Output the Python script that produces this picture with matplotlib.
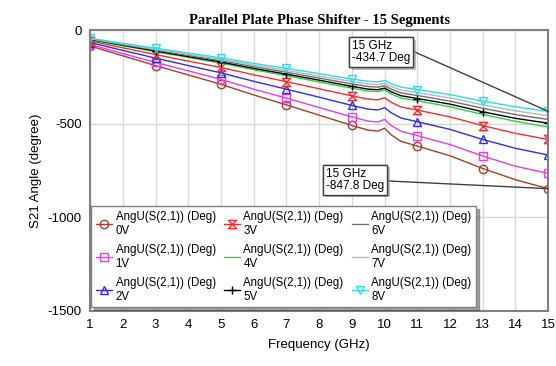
import matplotlib
matplotlib.use('Agg')
import matplotlib.pyplot as plt
import matplotlib.patheffects as pe
from matplotlib.path import Path

# frecuencias (GHz) y fase de S21 (grados) para cada tension de polarizacion
freq = [1, 2, 3, 4, 5, 6, 7, 8, 9, 9.5, 9.8, 10, 10.2, 10.5, 11, 12, 13, 14, 15]

fase_0V = [-85, -138, -190, -240, -290, -347, -400, -455, -510, -535, -540, -525, -560, -595, -620, -672, -740, -800, -847.8]
fase_1V = [-77, -126, -173, -218, -264, -316, -364, -414, -464, -487, -491, -478, -510, -541, -564, -612, -673, -728, -766]
fase_2V = [-67, -109, -150, -190, -229, -274, -316, -359, -403, -423, -427, -415, -442, -470, -490, -531, -585, -632, -668]
fase_3V = [-59, -95, -131, -166, -200, -239, -276, -314, -352, -369, -373, -362, -386, -411, -428, -464, -511, -552, -585]
fase_4V = [-52, -84, -116, -146, -177, -212, -244, -278, -311, -326, -329, -320, -342, -363, -378, -410, -451, -488, -518]
fase_5V = [-50, -81, -112, -142, -171, -205, -236, -268, -301, -316, -319, -310, -330, -351, -366, -396, -437, -472, -498]
fase_6V = [-48, -78, -107, -136, -164, -196, -226, -257, -288, -302, -305, -297, -316, -336, -350, -380, -418, -452, -478]
fase_7V = [-46, -75, -103, -130, -157, -187, -216, -246, -275, -289, -292, -284, -302, -321, -335, -363, -400, -432, -458]
fase_8V = [-44, -71, -97, -123, -149, -178, -205, -233, -262, -274, -277, -269, -287, -305, -318, -345, -380, -410, -434.7]

voltajes = ['0V', '1V', '2V', '3V', '4V', '5V', '6V', '7V', '8V']
series = [fase_0V, fase_1V, fase_2V, fase_3V, fase_4V, fase_5V, fase_6V, fase_7V, fase_8V]

reloj = Path([(-1, 1), (1, 1), (-1, -1), (1, -1), (-1, 1)],
             [Path.MOVETO, Path.LINETO, Path.LINETO, Path.LINETO, Path.CLOSEPOLY])

colores = ['#a0402f', '#e43ee4', '#2f2fe0', '#f03030', '#30d040', '#000000', '#6e6e6e', '#b8b8b8', '#30dbe8']
marcas = ['o', 's', '^', reloj, None, '+', None, None, 'v']

# marcadores solo en las frecuencias impares
idx_marcas = [i for i, f in enumerate(freq) if f in (1, 3, 5, 7, 9, 11, 13, 15)]

plt.rcParams['font.family'] = ['Liberation Sans', 'DejaVu Sans']
plt.rcParams['axes.unicode_minus'] = False

fig = plt.figure(figsize=(5.56, 3.66), dpi=100)
ax = fig.add_axes([0.162, 0.151, 0.824, 0.767])

for v, y, c, m in zip(voltajes, series, colores, marcas):
    ax.plot(freq, y, color=c, lw=1.0, marker=m, markevery=idx_marcas,
            markersize=6, markerfacecolor='none', markeredgecolor=c, markeredgewidth=1.0,
            label='AngU(S(2,1)) (Deg)\n' + v)

ax.set_xlim(1, 15)
ax.set_ylim(-1500, 0)
ax.set_xticks(range(1, 16))
ax.set_yticks([0, -500, -1000, -1500])
ax.grid(True, color='#d8d8d8', lw=1.0)
ax.tick_params(length=0, labelsize=9.5, pad=6)
for s in ax.spines.values():
    s.set_color('#808080')
    s.set_linewidth(1.5)

ax.set_title('Parallel Plate Phase Shifter - 15 Segments', family='Liberation Serif',
             fontweight='bold', fontsize=10.5, pad=4)
ax.set_xlabel('Frequency (GHz)', fontsize=9.5, labelpad=6)
ax.set_ylabel('S21 Angle (degree)', fontsize=9.5, labelpad=4)

# marcadores de los valores a 15 GHz
caja = dict(boxstyle='square,pad=0.25', fc='white', ec='#404040', lw=1.0)
a1 = ax.annotate('15 GHz\n%.1f Deg' % fase_8V[-1], xy=(15, fase_8V[-1]), xytext=(9.0, -55),
                 ha='left', va='top', fontsize=8.5, bbox=caja, linespacing=1.0,
                 arrowprops=dict(arrowstyle='-', color='#404040', lw=1.0, relpos=(1, 0.6),
                                 shrinkA=0, shrinkB=0))
a2 = ax.annotate('15 GHz\n%.1f Deg' % fase_0V[-1], xy=(15, fase_0V[-1]), xytext=(8.2, -735),
                 ha='left', va='top', fontsize=8.5, bbox=caja, linespacing=1.0,
                 arrowprops=dict(arrowstyle='-', color='#404040', lw=1.0, relpos=(1, 0.45),
                                 shrinkA=0, shrinkB=0))
for a in (a1, a2):
    a.get_bbox_patch().set_path_effects([pe.withSimplePatchShadow(offset=(2, -2), shadow_rgbFace='#999999', alpha=0.6), pe.Normal()])

leg = ax.legend(ncol=3, loc='lower left', bbox_to_anchor=(0.003, 0.012), fontsize=8.3,
                frameon=True, fancybox=False, shadow=True, edgecolor='#808080',
                handlelength=1.4, handletextpad=0.3, columnspacing=0.7,
                labelspacing=0.62, borderpad=0.4, borderaxespad=0)
leg.get_frame().set_linewidth(1.0)

fig.savefig('out.png', dpi=100)
